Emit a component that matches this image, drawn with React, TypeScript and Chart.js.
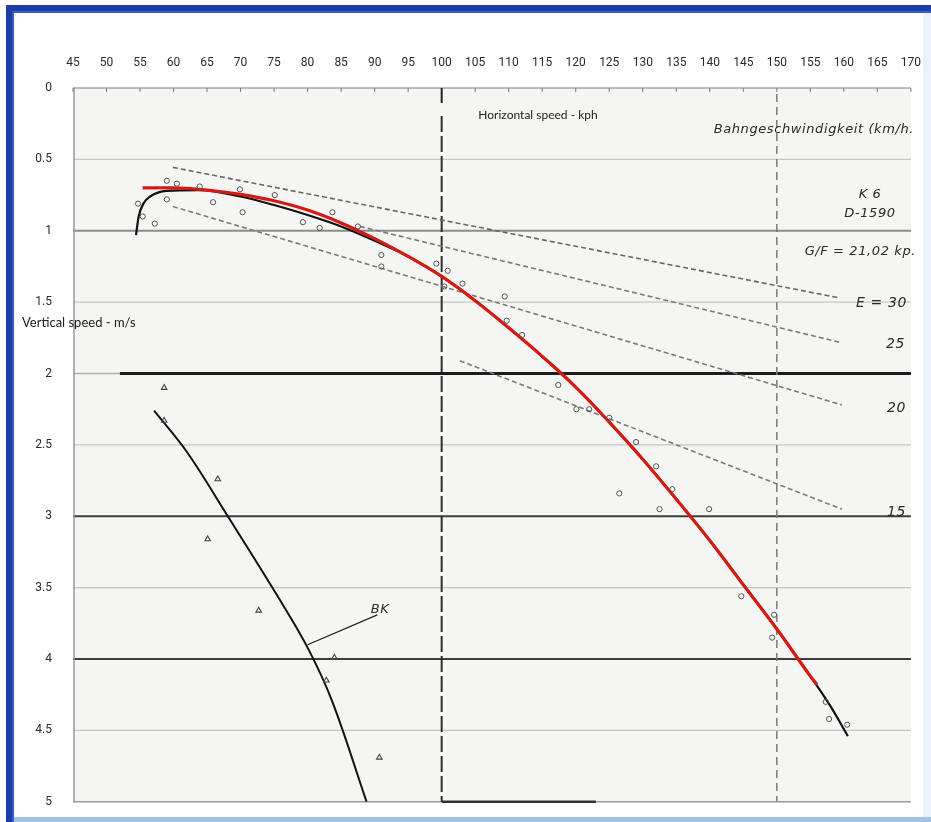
import React, { useEffect, useRef } from "react";
import { Chart, registerables } from "chart.js";

Chart.register(...registerables);

// ---- data ----
// main (red) fitted curve
const redX = [55.4, 60, 65, 70, 75, 80, 85, 90, 95, 100, 105, 110, 115, 120, 125, 130, 135, 140, 145, 150, 155, 156];
const redY = [0.7, 0.7, 0.715, 0.745, 0.79, 0.855, 0.945, 1.055, 1.18, 1.32, 1.49, 1.68, 1.88, 2.095, 2.34, 2.6, 2.88, 3.17, 3.48, 3.79, 4.12, 4.18];
// original black curve (hook at start, tail at end)
const blackX = [54.4, 54.8, 55.5, 56.5, 59, 64, 70, 75, 80, 85, 90, 95, 100, 105, 110, 115, 120, 125, 130, 135, 140, 145, 150, 155, 158, 160.6];
const blackY = [1.03, 0.9, 0.81, 0.76, 0.72, 0.715, 0.76, 0.82, 0.89, 0.97, 1.07, 1.18, 1.32, 1.49, 1.68, 1.88, 2.095, 2.34, 2.6, 2.88, 3.17, 3.48, 3.79, 4.12, 4.33, 4.54];
// BK curve
const bkX = [57.1, 62.0, 68.1, 75.4, 80.0, 83.7, 88.8];
const bkY = [2.26, 2.55, 3.0, 3.55, 3.92, 4.3, 5.0];
// BK label leader
const bkLeaderX = [80.0, 90.4];
const bkLeaderY = [3.9, 3.69];
// measured points (circles)
const circleX = [59.0, 60.5, 59.0, 63.9, 69.9, 75.1, 54.7, 55.4, 57.2, 79.3, 65.9, 70.3, 81.8, 83.7, 87.5, 91.0, 91.0, 99.2, 100.9, 100.4, 103.1, 109.4, 109.7, 112.0, 117.4, 120.1, 122.0, 125.0, 129.0, 132.0, 126.5, 134.4, 132.5, 139.9, 144.7, 149.6, 149.3, 157.3, 157.8, 160.5];
const circleY = [0.65, 0.67, 0.78, 0.69, 0.71, 0.75, 0.81, 0.9, 0.95, 0.94, 0.8, 0.87, 0.98, 0.87, 0.97, 1.17, 1.25, 1.23, 1.28, 1.39, 1.37, 1.46, 1.63, 1.73, 2.08, 2.25, 2.25, 2.31, 2.48, 2.65, 2.84, 2.81, 2.95, 2.95, 3.56, 3.69, 3.85, 4.3, 4.42, 4.46];
// BK points (triangles)
const triX = [58.6, 58.6, 66.6, 65.1, 72.7, 84.0, 82.8, 90.7];
const triY = [2.1, 2.33, 2.74, 3.16, 3.66, 3.99, 4.15, 4.69];
// glide ratio lines E = 30, 25, 20, 15 (end points)
const e30X = [59.9, 159.3];
const e30Y = [0.556, 1.47];
const e25X = [87.8, 159.3];
const e25Y = [0.97, 1.78];
const e20X = [59.9, 159.7];
const e20Y = [0.83, 2.22];
const e15X = [102.7, 159.7];
const e15Y = [1.91, 2.95];

// axis
const xMin = 45, xMax = 170, xStep = 5;
const yMin = 0, yMax = 5, yStep = 0.5;
const minorRules = [0.5, 1.5, 2.5, 3.5, 4.5];
const majorRules = [3, 4];
const verticalRules = [100, 150];

const pts = (xs: number[], ys: number[]) => xs.map((x, i) => ({ x, y: ys[i] }));

const TICK_FONT = "Roboto, 'Liberation Sans', sans-serif";

const paperPlugin = {
  id: "paper",
  beforeDraw(chart: any) {
    const ctx = chart.ctx;
    const { left, right, top, bottom } = chart.chartArea;
    const xs = chart.scales.x;
    const ys = chart.scales.y;
    ctx.save();
    ctx.fillStyle = "#ffffff";
    ctx.fillRect(0, 0, chart.width, chart.height);
    ctx.fillStyle = "#f5f5f4";
    ctx.fillRect(left, top, right - left, bottom - top);

    const hline = (v: number, color: string, w: number, x0 = left, x1 = right) => {
      const y = ys.getPixelForValue(v);
      ctx.strokeStyle = color;
      ctx.lineWidth = w;
      ctx.beginPath();
      ctx.moveTo(x0, y);
      ctx.lineTo(x1, y);
      ctx.stroke();
    };
    minorRules.forEach((v) => hline(v, "#c6c6c6", 1.2));
    hline(1, "#8c8c8c", 1.8);
    hline(2, "#b0b0b0", 1.5);
    hline(2, "#1c1c1c", 3, xs.getPixelForValue(52), right);
    majorRules.forEach((v) => hline(v, "#3c3c3c", 2));
    hline(5, "#9a9a9a", 1.5);
    hline(5, "#333333", 2.5, xs.getPixelForValue(100), xs.getPixelForValue(123));
    hline(0, "#7a7a7a", 1.2);

    // vertical rules
    verticalRules.forEach((v, i) => {
      const x = xs.getPixelForValue(v);
      ctx.strokeStyle = i === 0 ? "#2e2e2e" : "#7a7a7a";
      ctx.lineWidth = i === 0 ? 2 : 1.5;
      ctx.setLineDash(i === 0 ? [16, 4] : [8, 5]);
      ctx.beginPath();
      ctx.moveTo(x, top + (i === 0 ? 28 : 6));
      ctx.lineTo(x, bottom);
      ctx.stroke();
    });
    ctx.setLineDash([]);
    // left axis line
    ctx.strokeStyle = "#9a9a9a";
    ctx.lineWidth = 1.5;
    ctx.beginPath();
    ctx.moveTo(left + 1, top);
    ctx.lineTo(left + 1, bottom);
    ctx.stroke();
    // top ticks
    ctx.strokeStyle = "#777";
    ctx.lineWidth = 1;
    for (let v = xMin; v <= xMax; v += xStep) {
      const x = xs.getPixelForValue(v);
      ctx.beginPath();
      ctx.moveTo(x, top);
      ctx.lineTo(x, top + 4);
      ctx.stroke();
    }
    const x100 = xs.getPixelForValue(100);
    ctx.strokeStyle = "#222";
    ctx.lineWidth = 2;
    ctx.beginPath();
    ctx.moveTo(x100, top);
    ctx.lineTo(x100, top + 15);
    ctx.stroke();
    ctx.restore();
  },
  afterDatasetsDraw(chart: any) {
    const ctx = chart.ctx;
    ctx.save();
    ctx.textBaseline = "middle";
    ctx.fillStyle = "#222";
    ctx.font = "12px Lato, 'Open Sans', sans-serif";
    ctx.textAlign = "center";
    ctx.fillText("Horizontal speed - kph", 538, 115);
    ctx.textAlign = "left";
    ctx.font = "13px Lato, 'Open Sans', sans-serif";
    ctx.fillText("Vertical speed - m/s", 22, 323);

    ctx.fillStyle = "#2a2a2a";
    ctx.font = "italic 13px 'DejaVu Sans', sans-serif";
    (ctx as any).letterSpacing = "0.6px";
    ctx.textAlign = "right";
    ctx.fillText("Bahngeschwindigkeit (km/h.", 914, 130);
    ctx.textAlign = "center";
    ctx.fillText("K 6", 870, 195);
    ctx.fillText("D-1590", 870, 214);
    ctx.textAlign = "right";
    ctx.fillText("G/F = 21,02 kp.", 916, 252);
    ctx.font = "italic 14px 'DejaVu Sans', sans-serif";
    ctx.fillText("E = 30", 907, 303);
    ctx.fillText("25", 905, 344);
    ctx.fillText("20", 906, 408);
    ctx.fillText("15", 906, 512);
    ctx.textAlign = "center";
    ctx.font = "italic 13px 'DejaVu Sans', sans-serif";
    ctx.fillText("BK", 380, 610);
    ctx.restore();
  },
  afterDraw(chart: any) {
    const ctx = chart.ctx;
    const W = chart.width, H = chart.height;
    ctx.save();
    ctx.fillStyle = "#e9f2fb";
    ctx.fillRect(W - 8, 13, 8, H - 13);
    ctx.fillStyle = "#9fc3e6";
    ctx.fillRect(14, H - 5, W - 14, 5);
    ctx.fillStyle = "#1d3ea8";
    ctx.fillRect(6, 5, 8, H - 5);
    ctx.fillRect(6, 5, W - 6, 8);
    ctx.fillStyle = "#3b5cc0";
    ctx.fillRect(12, 11, 2, H - 11);
    ctx.fillRect(12, 11, W - 12, 2);
    ctx.restore();
  },
};

export default function App() {
  const ref = useRef<HTMLCanvasElement | null>(null);
  useEffect(() => {
    document.body.style.margin = "0";
    const canvas = ref.current;
    if (!canvas) return;
    // order: lower number is drawn on top
    const lineDs = (label: string, data: any[], color: string, width: number, order: number, dash: number[] = [], mode = "default", tension = 0.4) => ({
      label,
      data,
      order,
      showLine: true,
      borderColor: color,
      borderWidth: width,
      borderDash: dash,
      pointRadius: 0,
      tension,
      cubicInterpolationMode: mode,
      fill: false,
    });
    const chart = new Chart(canvas, {
      type: "scatter",
      data: {
        datasets: [
          lineDs("E = 30", pts(e30X, e30Y), "#666666", 1.6, 9, [5, 3], "default", 0),
          lineDs("E = 25", pts(e25X, e25Y), "#7a7a7a", 1.6, 9, [5, 3], "default", 0),
          lineDs("E = 20", pts(e20X, e20Y), "#7a7a7a", 1.6, 9, [5, 3], "default", 0),
          lineDs("E = 15", pts(e15X, e15Y), "#7a7a7a", 1.6, 9, [5, 3], "default", 0),
          lineDs("BK leader", pts(bkLeaderX, bkLeaderY), "#222", 1.3, 6, [], "default", 0),
          lineDs("BK", pts(bkX, bkY), "#111", 2, 5, [], "default", 0.35),
          lineDs("K 6 original", pts(blackX, blackY), "#111", 2.2, 4, [], "monotone"),
          lineDs("K 6 fit", pts(redX, redY), "#d41a12", 3.2, 3, [], "default", 0.4),
          {
            label: "points",
            order: 1,
            data: pts(circleX, circleY),
            pointStyle: "circle",
            pointRadius: 2.6,
            borderColor: "#555",
            backgroundColor: "rgba(0,0,0,0)",
            borderWidth: 1,
            showLine: false,
          },
          {
            label: "BK points",
            order: 1,
            data: pts(triX, triY),
            pointStyle: "triangle",
            pointRadius: 3.2,
            borderColor: "#444",
            backgroundColor: "rgba(0,0,0,0)",
            borderWidth: 1.1,
            showLine: false,
          },
        ],
      },
      options: {
        animation: false,
        responsive: false,
        devicePixelRatio: 1,
        layout: { padding: { left: 0, top: 0, right: 19, bottom: 14 } },
        plugins: { legend: { display: false }, tooltip: { enabled: false } },
        scales: {
          x: {
            type: "linear",
            position: "top",
            min: xMin,
            max: xMax,
            grid: { display: false },
            border: { display: false },
            ticks: {
              stepSize: xStep,
              padding: 10,
              color: "#2a2a2a",
              font: { family: TICK_FONT, size: 12 },
              maxRotation: 0,
              autoSkip: false,
            },
            afterFit: (s: any) => {
              s.height = 88;
            },
          },
          y: {
            type: "linear",
            reverse: true,
            min: yMin,
            max: yMax,
            grid: { display: false },
            border: { display: false },
            ticks: {
              stepSize: yStep,
              padding: 13,
              color: "#2a2a2a",
              font: { family: TICK_FONT, size: 12 },
              callback: (v: any) => String(Number(v)),
            },
            afterFit: (s: any) => {
              s.width = 73;
            },
          },
        },
      },
      plugins: [paperPlugin],
    } as any);
    return () => chart.destroy();
  }, []);
  return (
    <div style={{ width: 931, height: 822, position: "relative" }}>
      <canvas ref={ref} width={931} height={822} style={{ display: "block" }} />
    </div>
  );
}
